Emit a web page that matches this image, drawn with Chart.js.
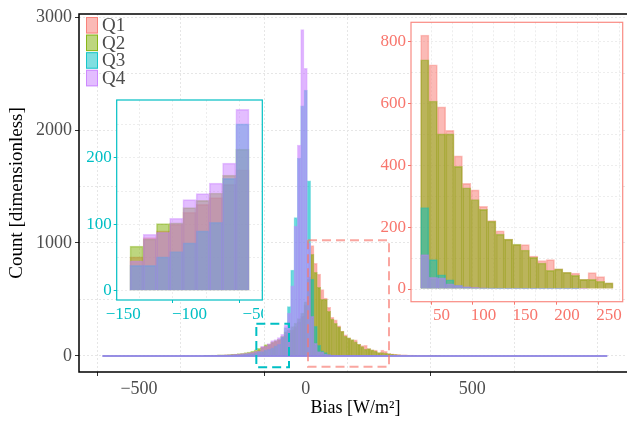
<!DOCTYPE html>
<html><head><meta charset="utf-8">
<script src="https://cdn.jsdelivr.net/npm/chart.js@4.4.0/dist/chart.umd.min.js"></script>
<style>
html,body{margin:0;padding:0;background:#fff;overflow:hidden;width:627px;height:422px;}
#wrap{position:relative;width:627px;height:422px;overflow:hidden;}
canvas{position:absolute;}
</style></head><body>
<div id="wrap">
<canvas id="main" width="640" height="422" style="left:0;top:0;width:640px;height:422px"></canvas>
<canvas id="insL" width="183" height="240" style="left:80px;top:90px;width:183px;height:240px"></canvas>
<canvas id="insR" width="257" height="320" style="left:370px;top:12px;width:257px;height:320px"></canvas>
</div>
<script>
// ---------- data ----------
const seriesNames = ['Q1', 'Q2', 'Q3', 'Q4'];
const binCenters = [-300,-290,-280,-270,-260,-250,-240,-230,-220,-210,-200,-190,-180,-170,-160,-150,
  -140,-130,-120,-110,-100,-90,-80,-70,-60,
  -50,-40,-30,-20,-10,0,10,20,
  30,40,50,60,70,80,90,100,110,120,130,140,150,160,170,180,190,200,210,220,230,240,250,
  260,270,280,290,300,310,320,330,340,350,360,370,380,390,400];
const q1 = [5,5,6,6,7,8,9,10,12,14,16,19,22,26,32,40,
  51,80,90,100,118,130,140,160,182,
  200,230,260,300,350,450,700,976,
  820,724,588,512,430,341,320,267,221,188,161,143,143,106,92,95,65,54,51,31,53,40,20,
  18,15,12,10,9,8,7,6,6,5,4,4,3,3,3];
const q2 = [6,6,7,8,9,10,11,13,15,17,20,24,29,35,43,55,
  67,78,101,102,125,136,147,174,213,
  230,260,290,330,380,480,680,900,
  740,607,501,501,396,327,289,257,219,177,161,145,126,102,84,60,65,54,44,31,31,25,20,
  15,12,10,8,7,6,5,5,4,4,3,3,2,2,2];
const q3 = [3,3,4,4,5,5,6,7,8,9,11,13,15,18,22,28,
  38,38,51,59,72,90,103,169,251,
  436,761,1224,1752,2215,2354,1551,680,
  263,95,46,30,12,6,4,3,3,2,2,2,1,1,1,1,1,1,1,0,0,0,0,
  0,0,0,0,0,0,0,0,0,0,0,0,0,0,0];
const q4 = [4,5,5,6,7,8,9,10,12,14,17,20,24,28,33,40,
  45,85,88,109,137,146,162,192,273,
  380,620,1150,1867,2888,2546,1000,350,
  111,38,36,17,12,8,5,4,3,3,2,2,2,1,1,1,1,1,1,1,0,0,0,
  0,0,0,0,0,0,0,0,0,0,0,0,0,0,0];
const seriesValues = [q1, q2, q3, q4];
const tailRange = [-610, 905];          // extent of (near-zero) counts
// main axes
const mainXRange = [-680, 979];
const mainYRange = [-142, 3027];
const mainXTicks = [-500, 0, 500];
const mainXMinor = [-250, 250, 750];
const mainYTicks = [0, 1000, 2000, 3000];
const mainYMinor = [500, 1500, 2500];
// zoom boxes
const cyanBoxX = [-148, -50], cyanBoxY = [-100, 285];
const salmonBoxX = [7, 250], salmonBoxY = [-95, 1025];
// insets
const leftKeep = [-145, -55], leftXRange = [-155, -45], leftYRange = [-14, 287];
const leftXTicks = [-150, -100, -50], leftXMinor = [-125, -75];
const leftYTicks = [0, 100, 200], leftYMinor = [50, 150, 250];
const rightKeep = [25, 255], rightXRange = [13.5, 266.5], rightYRange = [-41, 861];
const rightXTicks = [50, 100, 150, 200, 250], rightXMinor = [25, 75, 125, 175, 225];
const rightYTicks = [0, 200, 400, 600, 800], rightYMinor = [100, 300, 500, 700];

// ---------- style ----------
const F = 'Liberation Serif';
const colors = ['#F8766D', '#7CAE00', '#00BFC4', '#C77CFF'];
function rgba(hex, a) {
  const n = parseInt(hex.slice(1), 16);
  return `rgba(${n >> 16},${(n >> 8) & 255},${n & 255},${a})`;
}
const fmt = v => (v < 0 ? '\u2212' : '') + Math.abs(v);
Chart.defaults.font.family = F;

function barSets(keep) {
  return seriesValues.map((vals, i) => ({
    type: 'bar',
    label: seriesNames[i],
    data: binCenters.map((x, j) => ({x: x, y: vals[j]})).filter(p => keep(p.x)),
    backgroundColor: rgba(colors[i], 0.5),
    borderColor: rgba(colors[i], 0.45),
    borderWidth: 1,
    grouped: false,
    barPercentage: 1,
    categoryPercentage: 1,
    order: 4 - i
  }));
}

function axis(range, major, minor, opts) {
  const all = major.concat(minor).sort((a, b) => a - b);
  return {
    type: 'linear', min: range[0], max: range[1], offset: false,
    afterBuildTicks: s => { s.ticks = all.map(v => ({value: v})); },
    afterFit: s => {
      opts.fit(s);
      s.paddingLeft = 0; s.paddingRight = 0; s.paddingTop = 0; s.paddingBottom = 0;
    },
    ticks: {autoSkip: false, maxRotation: 0, padding: opts.pad, color: opts.color,
      font: {family: F, size: opts.size},
      callback: v => major.includes(v) ? fmt(v) : ''},
    grid: {color: opts.grid, lineWidth: 1, tickLength: opts.tl,
      tickColor: c => (c.tick && major.includes(c.tick.value)) ? opts.tickc : 'rgba(0,0,0,0)'},
    border: {display: false, dash: [2, 2]},
    title: opts.title || {display: false}
  };
}

// ---------- main chart ----------
const mainDecor = {
  id: 'mainDecor',
  afterDatasetsDraw(chart) {
    const {ctx, chartArea: a, scales: {x, y}} = chart;
    const box = (bx, by, color) => {
      const x0 = x.getPixelForValue(bx[0]), x1 = x.getPixelForValue(bx[1]);
      const y0 = y.getPixelForValue(by[1]), y1 = y.getPixelForValue(by[0]);
      ctx.save(); ctx.strokeStyle = color; ctx.lineWidth = 2; ctx.setLineDash([9, 5]);
      ctx.strokeRect(x0, y0, x1 - x0, y1 - y0); ctx.restore();
    };
    box(cyanBoxX, cyanBoxY, '#00BFC4');
    box(salmonBoxX, salmonBoxY, 'rgba(248,118,109,0.65)');
    ctx.save(); ctx.strokeStyle = '#000'; ctx.lineWidth = 1.5;
    ctx.beginPath();
    ctx.moveTo(a.right + 10, a.top); ctx.lineTo(a.left, a.top);
    ctx.lineTo(a.left, a.bottom); ctx.lineTo(a.right + 10, a.bottom);
    ctx.stroke(); ctx.restore();
    // legend
    ctx.save();
    ctx.font = `19px "${F}"`; ctx.textBaseline = 'middle'; ctx.textAlign = 'left';
    seriesNames.forEach((n, i) => {
      const sy = a.top + 3 + i * 17.6;
      ctx.fillStyle = '#fff'; ctx.fillRect(a.left + 7, sy, 12, 16.5);
      ctx.fillStyle = rgba(colors[i], 0.5); ctx.fillRect(a.left + 7, sy, 12, 16.5);
      ctx.strokeStyle = rgba(colors[i], 0.8); ctx.lineWidth = 1;
      ctx.strokeRect(a.left + 7.5, sy + 0.5, 11, 15.5);
      ctx.fillStyle = '#4d4d4d';
      ctx.fillText(n, a.left + 23, sy + 9);
    });
    ctx.restore();
  }
};

new Chart(document.getElementById('main'), {
  type: 'bar',
  data: {datasets: barSets(() => true).concat([{
    type: 'line', label: 'zero',
    data: tailRange.map(v => ({x: v, y: 0})),
    borderColor: 'rgba(140,130,225,0.9)', borderWidth: 2, pointRadius: 0, order: 0
  }])},
  options: {
    responsive: false, animation: false, devicePixelRatio: 1,
    layout: {padding: {top: 14, right: 8, left: 0, bottom: 0}},
    plugins: {legend: {display: false}, tooltip: {enabled: false}},
    scales: {
      x: axis(mainXRange, mainXTicks, mainXMinor, {
        fit: s => { s.height = 50; }, pad: 2, color: '#4d4d4d', size: 18, grid: '#e6e6e6', tl: 4, tickc: '#333',
        title: {display: true, text: 'Bias [W/m²]', color: '#000', font: {family: F, size: 18, lineHeight: 1}, padding: {top: 0, bottom: 5}}
      }),
      y: axis(mainYRange, mainYTicks, mainYMinor, {
        fit: s => { s.width = 79; }, pad: 3, color: '#4d4d4d', size: 18, grid: '#e6e6e6', tl: 4, tickc: '#333',
        title: {display: true, text: 'Count [dimensionless]', color: '#000', font: {family: F, size: 19, lineHeight: 1}, padding: {top: 8, bottom: 0}}
      })
    }
  },
  plugins: [mainDecor]
});

// ---------- insets ----------
function insetDecor(color) {
  return {
    id: 'insetDecor',
    beforeDraw(chart) {
      const {ctx, chartArea: a} = chart;
      ctx.save(); ctx.fillStyle = '#fff'; ctx.fillRect(a.left, a.top, a.right - a.left, a.bottom - a.top); ctx.restore();
    },
    afterDraw(chart) {
      const {ctx, chartArea: a} = chart;
      ctx.save(); ctx.strokeStyle = color; ctx.lineWidth = 1.2;
      ctx.strokeRect(a.left, a.top, a.right - a.left, a.bottom - a.top); ctx.restore();
    }
  };
}
function makeInset(id, c) {
  new Chart(document.getElementById(id), {
    type: 'bar',
    data: {datasets: barSets(v => v >= c.keep[0] && v <= c.keep[1])},
    options: {
      responsive: false, animation: false, devicePixelRatio: 1,
      layout: {padding: c.pad},
      plugins: {legend: {display: false}, tooltip: {enabled: false}},
      scales: {
        x: axis(c.xr, c.xt, c.xm, {fit: s => { s.height = c.xh; }, pad: 1, color: c.color, size: 17, grid: '#ededed', tl: 3, tickc: c.tickc}),
        y: axis(c.yr, c.yt, c.ym, {fit: s => { s.width = c.yw; }, pad: 2, color: c.color, size: 17, grid: '#ededed', tl: 3, tickc: c.tickc})
      }
    },
    plugins: [insetDecor(c.frame)]
  });
}
makeInset('insL', {keep: leftKeep, xr: leftXRange, yr: leftYRange, xt: leftXTicks, xm: leftXMinor,
  yt: leftYTicks, ym: leftYMinor, color: '#00BFC4', tickc: '#00BFC4', frame: '#00BFC4',
  pad: {top: 10, right: 0.7, left: 0, bottom: 0}, xh: 30, yw: 36.7});
makeInset('insR', {keep: rightKeep, xr: rightXRange, yr: rightYRange, xt: rightXTicks, xm: rightXMinor,
  yt: rightYTicks, ym: rightYMinor, color: '#F8766D', tickc: '#F8766D', frame: 'rgba(248,118,109,0.85)',
  pad: {top: 10.3, right: 4.3, left: 0, bottom: 0}, xh: 30.3, yw: 41});
</script>
</body></html>
